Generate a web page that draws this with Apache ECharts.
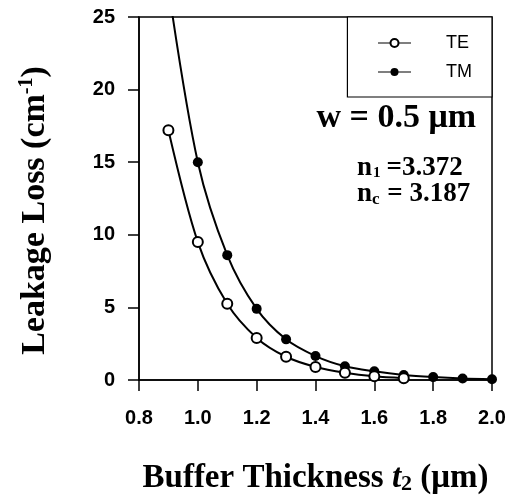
<!DOCTYPE html>
<html>
<head>
<meta charset="utf-8">
<script src="https://cdn.jsdelivr.net/npm/echarts@6/dist/echarts.min.js"></script>
<style>
  html, body { margin: 0; padding: 0; background: #fff; }
  #chart { width: 508px; height: 495px; }
</style>
</head>
<body>
<div id="chart"></div>
<script>
// Buffer thickness t2 (µm)
const thicknessTE = [0.9, 1.0, 1.1, 1.2, 1.3, 1.4, 1.5, 1.6, 1.7];
const lossTE = [17.2, 9.5, 5.25, 2.9, 1.6, 0.9, 0.5, 0.25, 0.12];
const thicknessTM = [0.9, 1.0, 1.1, 1.2, 1.3, 1.4, 1.5, 1.6, 1.7, 1.8, 1.9, 2.0];
const lossTM = [27.0, 15.0, 8.6, 4.9, 2.8, 1.65, 0.95, 0.6, 0.35, 0.2, 0.1, 0.05];
const xTicks = [0.8, 1.0, 1.2, 1.4, 1.6, 1.8, 2.0];
const yTicks = [0, 5, 10, 15, 20, 25];

const serif = '"Liberation Serif", "DejaVu Serif", serif';
const sans = '"Liberation Sans", Arial, sans-serif';

const chart = echarts.init(document.getElementById('chart'), null, { renderer: 'canvas' });

function pairs(xs, ys) { return xs.map((x, i) => [x, ys[i]]); }

chart.setOption({
  animation: false,
  backgroundColor: '#fff',
  grid: {
    left: 139, right: 16, top: 17, bottom: 115,
    outerBoundsMode: 'none',
    show: true, borderColor: '#000', borderWidth: 1.5
  },
  legend: {
    right: 16, top: 17,
    orient: 'vertical',
    align: 'left',
    padding: [16, 20, 15, 30],
    itemGap: 9,
    itemWidth: 33,
    itemHeight: 10,
    borderColor: '#000',
    borderWidth: 1.2,
    borderRadius: 0,
    backgroundColor: '#fff',
    lineStyle: { width: 1.2 },
    textStyle: { fontFamily: sans, fontSize: 18, color: '#000', lineHeight: 20, padding: [0, 0, 0, 30] },
    data: ['TE', 'TM']
  },
  xAxis: {
    type: 'value',
    min: xTicks[0], max: xTicks[xTicks.length - 1], interval: 0.2,
    axisLine: { onZero: false, lineStyle: { color: '#000', width: 1.5 } },
    axisTick: { show: true, length: 11, lineStyle: { color: '#000', width: 1.5 } },
    axisLabel: { fontFamily: sans, fontWeight: 'bold', fontSize: 20, color: '#000', margin: 28, formatter: v => v.toFixed(1) },
    splitLine: { show: false },
    name: '{b|Buffer Thickness }{i|t}{sub|2}{b| (μm)}',
    nameLocation: 'middle',
    nameGap: 81,
    nameTextStyle: {
      rich: {
        b: { fontFamily: serif, fontWeight: 'bold', fontSize: 33, color: '#000' },
        i: { fontFamily: serif, fontWeight: 'bold', fontStyle: 'italic', fontSize: 33, color: '#000' },
        sub: { fontFamily: serif, fontWeight: 'bold', fontSize: 22, color: '#000', padding: [12, 0, 0, 0] }
      }
    }
  },
  yAxis: {
    type: 'value',
    min: yTicks[0], max: yTicks[yTicks.length - 1], interval: 5,
    axisLine: { show: true, lineStyle: { color: '#000', width: 1.5 } },
    axisTick: { show: true, length: 11, lineStyle: { color: '#000', width: 1.5 } },
    axisLabel: { fontFamily: sans, fontWeight: 'bold', fontSize: 20, color: '#000', margin: 24 },
    splitLine: { show: false },
    name: '{b|Leakage Loss (cm}{sup|-1}{b|)}',
    nameLocation: 'middle',
    nameRotate: 90,
    nameGap: 86,
    nameTextStyle: {
      padding: [0, 24, 0, 0],
      rich: {
        b: { fontFamily: serif, fontWeight: 'bold', fontSize: 34, color: '#000' },
        sup: { fontFamily: serif, fontWeight: 'bold', fontSize: 20, color: '#000', padding: [0, 0, 16, 0] }
      }
    }
  },
  graphic: [
    {
      type: 'text', right: 32, top: 101,
      style: { text: 'w = 0.5 μm', font: 'bold 34px ' + serif, fill: '#000' }
    },
    {
      type: 'text', left: 357, top: 155,
      style: {
        text: '{b|n}{s|1}{b|=3.372}',
        rich: {
          b: { font: 'bold 27px ' + serif, fill: '#000' },
          s: { font: 'bold 15px ' + serif, fill: '#000', padding: [10, 6, 0, 1] }
        }
      }
    },
    {
      type: 'text', left: 357, top: 181,
      style: {
        text: '{b|n}{s|c}{b| = 3.187}',
        rich: {
          b: { font: 'bold 27px ' + serif, fill: '#000' },
          s: { font: 'bold 17px ' + serif, fill: '#000', padding: [10, 1, 0, 0] }
        }
      }
    }
  ],
  series: [
    {
      name: 'TE', type: 'line', smooth: 0.3, clip: true,
      data: pairs(thicknessTE, lossTE),
      symbol: 'emptyCircle', symbolSize: 10,
      lineStyle: { color: '#000', width: 2 },
      itemStyle: { color: '#000', borderColor: '#000', borderWidth: 1.5 },
      z: 3
    },
    {
      name: 'TM', type: 'line', smooth: 0.3, clip: true,
      data: pairs(thicknessTM, lossTM),
      symbol: 'circle', symbolSize: 10,
      lineStyle: { color: '#000', width: 2 },
      itemStyle: { color: '#000' },
      z: 2
    }
  ]
});
</script>
</body>
</html>
